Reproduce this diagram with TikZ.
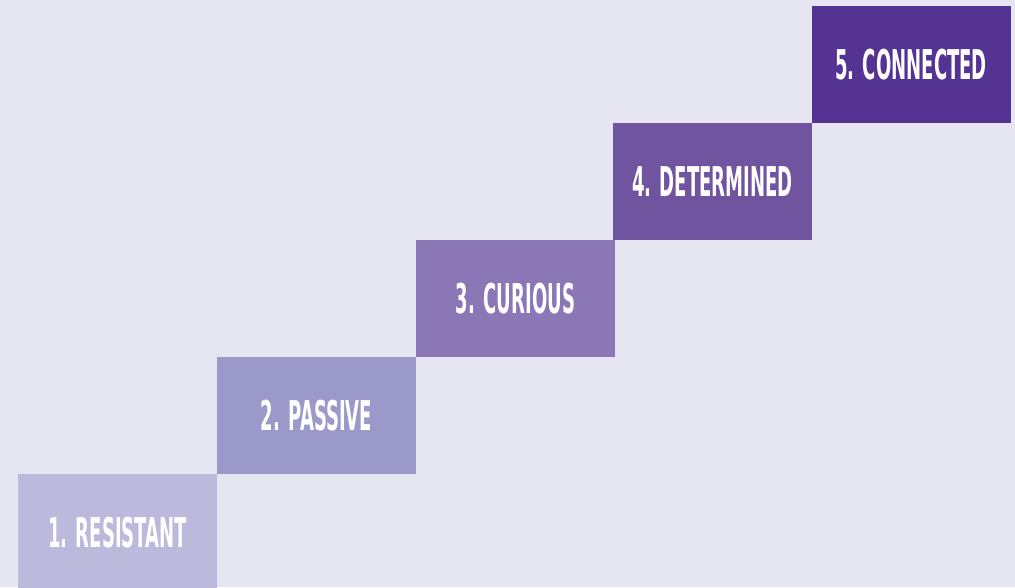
\documentclass[tikz,border=0pt]{standalone}
\usepackage{fontspec}
\newfontfamily\stepfont[FakeStretch=0.44]{DejaVu Sans}
\definecolor{bgpale}{HTML}{E6E6F2}
\definecolor{stepA}{HTML}{BBB9DC}
\definecolor{stepB}{HTML}{9B99CA}
\definecolor{stepC}{HTML}{8C77B6}
\definecolor{stepD}{HTML}{7054A0}
\definecolor{stepE}{HTML}{553393}
\begin{document}
\begin{tikzpicture}[x=1pt,y=1pt,
    stepbox/.style={rectangle, inner sep=0pt, minimum width=199pt, minimum height=117pt,
      text=white, font=\stepfont\bfseries\fontsize{41}{41}\selectfont}]
    \fill[bgpale] (0,0) rectangle (1015,587);
    \useasboundingbox (0,0) rectangle (1015,587);
    \node[stepbox, fill=stepA] (resistant) at (117.5,54.5) {1. RESISTANT};
    \node[stepbox, fill=stepB] (passive) at (316.5,171.5) {2. PASSIVE};
    \node[stepbox, fill=stepC] (curious) at (515.5,288.5) {3. CURIOUS};
    \node[stepbox, fill=stepD] (determined) at (712.5,405.5) {4. DETERMINED};
    \node[stepbox, fill=stepE] (connected) at (911,522.5) {5. CONNECTED};
\end{tikzpicture}
\end{document}
